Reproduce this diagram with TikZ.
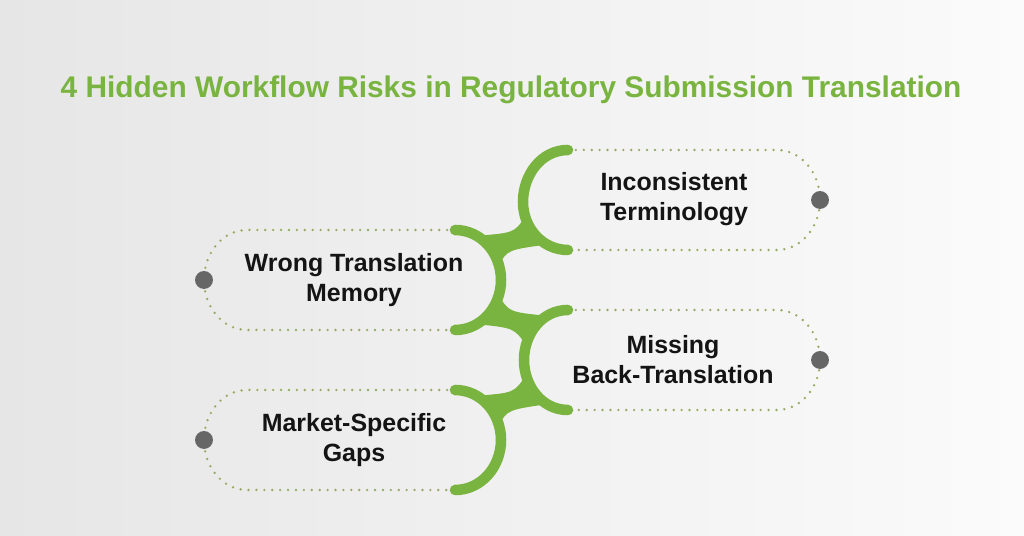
\documentclass[tikz,border=0pt]{standalone}
\usepackage{fontspec}
\setmainfont{Liberation Sans}
\usepackage{tikz}
\usetikzlibrary{positioning}
\usetikzlibrary{calc}
\definecolor{leafgreen}{RGB}{122,180,64}
\definecolor{dotolive}{RGB}{150,172,100}
\definecolor{pingray}{RGB}{102,102,102}
\definecolor{bgleft}{RGB}{230,230,230}
\definecolor{bgright}{RGB}{251,251,251}
\tikzset{branch/.style={draw=leafgreen,line width=6pt,line cap=round},
outline/.style={draw=dotolive,line width=1.5pt,line cap=round,dash pattern=on 0pt off 4.5pt},
pin/.style={circle,fill=pingray,minimum size=10.2pt,inner sep=0pt},
itemtext/.style={font=\bfseries\fontsize{14.2}{17}\selectfont,align=center,text=black!92}}

\begin{document}
\begin{tikzpicture}[x=0.02cm,y=0.02cm]
\shade[left color=bgleft,right color=bgright] (0,0) rectangle (1024,536);
\useasboundingbox (0,0) rectangle (1024,536);
\node (title) at (511,446) [font=\bfseries\fontsize{17}{20}\selectfont,text=leafgreen] {4 Hidden Workflow Risks in Regulatory Submission Translation};
\coordinate (s0) at (568,386);
\coordinate (s1) at (523,334);
\coordinate (s2) at (501,256);
\coordinate (s3) at (524,176);
\coordinate (s4) at (501,96);
\coordinate (s5) at (455,46);
\coordinate (a1) at (455,306);
\coordinate (b1) at (568,286);
\coordinate (a2) at (455,206);
\coordinate (b2) at (568,226);
\coordinate (a3) at (455,146);
\coordinate (b3) at (568,126);
\coordinate (n1a) at (514,303.1);
\coordinate (n1b) at (508,286.1);
\coordinate (n2a) at (509,224);
\coordinate (n2b) at (513.7,208.1);
\coordinate (n3a) at (514,143.1);
\coordinate (n3b) at (508,126.1);
\draw[outline] (s0) -- (777,386) arc[start angle=90,end angle=-90,x radius=43,y radius=50] -- (b1);
\draw[outline] (b2) -- (777,226) arc[start angle=90,end angle=-90,x radius=43,y radius=50] -- (b3);
\draw[outline] (a1) -- (247,306) arc[start angle=90,end angle=270,x radius=43,y radius=50] -- (a2);
\draw[outline] (a3) -- (247,146) arc[start angle=90,end angle=270,x radius=43,y radius=50] -- (s5);
\draw[branch] (s0) to[out=180,in=90] (s1) to[out=-90,in=180] coordinate[pos=0.2] (r1u) coordinate[pos=0.7] (r1d) (b1);
\draw[branch] (a1) to[out=0,in=90] coordinate[pos=0.3] (l1u) coordinate[pos=0.8] (l1d) (s2) to[out=-90,in=0] coordinate[pos=0.2] (l1e) coordinate[pos=0.7] (l1f) (a2);
\draw[branch] (b2) to[out=180,in=90] coordinate[pos=0.3] (r2u) coordinate[pos=0.8] (r2d) (s3) to[out=-90,in=180] coordinate[pos=0.2] (r2e) coordinate[pos=0.7] (r2f) (b3);
\draw[branch] (a3) to[out=0,in=90] coordinate[pos=0.3] (l2u) coordinate[pos=0.8] (l2d) (s4) to[out=-90,in=0] (s5);
\fill[leafgreen] (r1u) .. controls (n1a) .. (l1u) -- (l1d) .. controls (n1b) .. (r1d) -- cycle;
\fill[leafgreen] (l1e) .. controls (n2a) .. (r2u) -- (r2d) .. controls (n2b) .. (l1f) -- cycle;
\fill[leafgreen] (r2e) .. controls (n3a) .. (l2u) -- (l2d) .. controls (n3b) .. (r2f) -- cycle;
\foreach \n/\tx/\ty/\px/\py/\txt in {r1/674/337/820/336/{Inconsistent\\Terminology}, l1/354/256/204/256/{Wrong Translation\\Memory}, r2/673/176/820/176/{Missing\\Back-Translation}, l2/354/96/204/96/{Market-Specific\\Gaps}} {
\node (pin\n) at (\px,\py) [pin] {};
\node (txt\n) at (\tx,\ty) [itemtext] {\txt};
}
\end{tikzpicture}
\end{document}
